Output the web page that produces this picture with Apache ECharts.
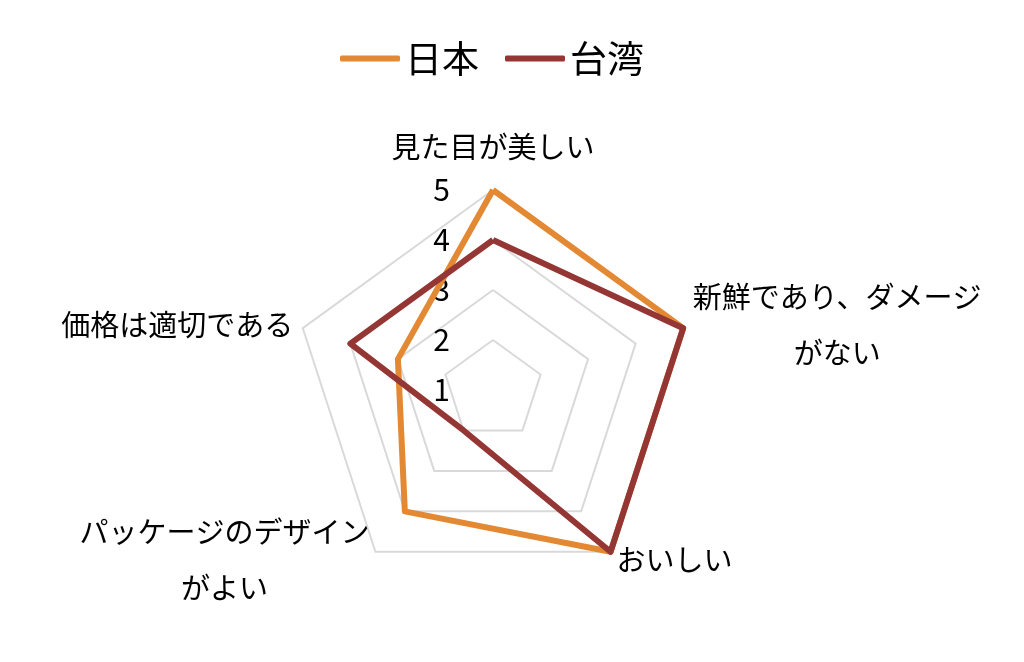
<!DOCTYPE html>
<html>
<head>
<meta charset="utf-8">
<script src="https://cdn.jsdelivr.net/npm/echarts@6/dist/echarts.min.js"></script>
<style>
html,body{margin:0;padding:0;background:#fff;}
#chart{width:1024px;height:662px;}
</style>
</head>
<body>
<div id="chart"></div>
<script>
// axes in clockwise order starting at the top
var categories = ['見た目が美しい', '新鮮であり、ダメージ\nがない', 'おいしい', 'パッケージのデザイン\nがよい', '価格は適切である'];
var japan = [5, 5, 5, 4, 3];
var taiwan = [4, 5, 5, 2, 4];
var seriesNames = ['日本', '台湾'];
var colors = ['#E38933', '#943634'];
var axisMin = 1, axisMax = 5;

// echarts lays indicators out counter-clockwise, so flip everything after the first
function ccw(arr) {
    return [arr[0]].concat(arr.slice(1).reverse());
}

var indicator = ccw(categories).map(function(name, i) {
    var ind = { name: name, min: axisMin, max: axisMax };
    if (i > 0) ind.axisLabel = { show: false };
    return ind;
});

var chart = echarts.init(document.getElementById('chart'));
chart.setOption({
    animation: false,
    color: colors,
    legend: {
        top: 35,
        left: 335,
        icon: 'roundRect',
        itemWidth: 60,
        itemHeight: 6,
        itemGap: 26,
        textStyle: { fontSize: 37, color: '#000', fontFamily: 'Noto Sans CJK JP' },
        data: seriesNames
    },
    radar: {
        center: [493, 390],
        radius: 200,
        shape: 'polygon',
        splitNumber: 4,
        indicator: indicator,
        axisName: {
            color: '#000',
            fontSize: 29,
            fontFamily: 'Noto Sans CJK JP',
            lineHeight: 56,
            formatter: function(v) {
                return v.split('\n').map(function(s) { return '{c|' + s + '}'; }).join('\n');
            },
            rich: {
                c: { align: 'center', fontSize: 29, lineHeight: 56, color: '#000', fontFamily: 'Noto Sans CJK JP' }
            }
        },
        nameGap: 10,
        axisLine: { show: false },
        axisTick: { show: false },
        axisLabel: {
            show: true,
            margin: 43,
            fontSize: 30,
            color: '#000',
            fontFamily: 'Noto Sans CJK JP'
        },
        splitLine: { lineStyle: { color: '#d9d9d9', width: 2 } },
        splitArea: { show: false }
    },
    series: [{
        type: 'radar',
        symbol: 'none',
        data: [
            { name: seriesNames[0], value: ccw(japan), lineStyle: { color: colors[0], width: 6 } },
            { name: seriesNames[1], value: ccw(taiwan), lineStyle: { color: colors[1], width: 6 } }
        ]
    }]
});
</script>
</body>
</html>
